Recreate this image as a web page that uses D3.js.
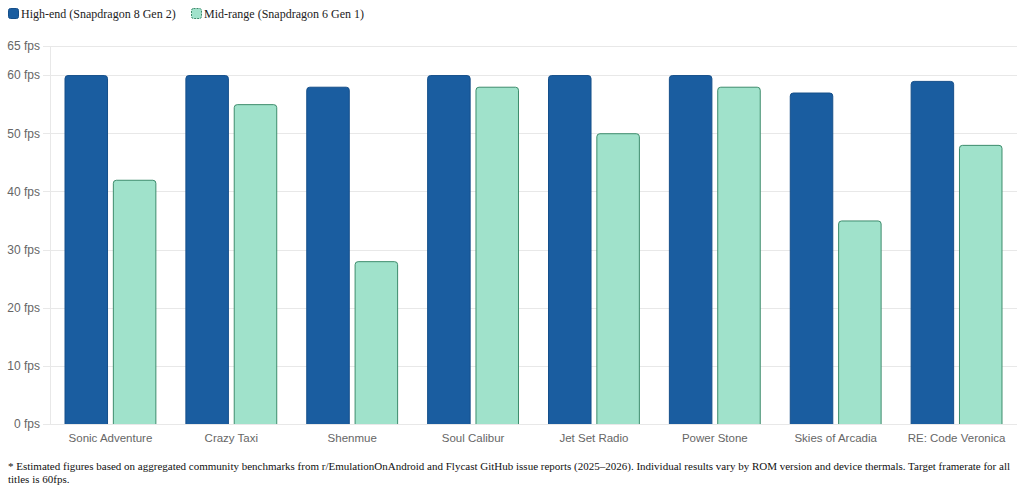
<!DOCTYPE html>
<html>
<head>
<meta charset="utf-8">
<script src="https://cdn.jsdelivr.net/npm/d3@7"></script>
<style>
  body { margin: 0; background: #fff; }
  svg { display: block; }
</style>
</head>
<body>
<svg id="chart" width="1024" height="495"></svg>
<script>
var games = ['Sonic Adventure', 'Crazy Taxi', 'Shenmue', 'Soul Calibur', 'Jet Set Radio', 'Power Stone', 'Skies of Arcadia', 'RE: Code Veronica']
var highEnd = [60, 60, 58, 60, 60, 60, 57, 59]
var midRange = [42, 55, 28, 58, 50, 58, 35, 48]
var yTicks = [0, 10, 20, 30, 40, 50, 60, 65]
var seriesNames = ['High-end (Snapdragon 8 Gen 2)', 'Mid-range (Snapdragon 6 Gen 1)']
var note = ['* Estimated figures based on aggregated community benchmarks from r/EmulationOnAndroid and Flycast GitHub issue reports (2025\u20132026). Individual results vary by ROM version and device thermals. Target framerate for all',
  'titles is 60fps.']

var fills = ['#1a5da0', '#a0e2cb']
var strokes = ['#154f8a', '#3d8c6c']

var svg = d3.select('#chart')
var m = {left: 50, right: 1017, top: 46, bottom: 424}

var x = d3.scaleBand().domain(games).range([m.left, m.right])
var x1 = d3.scaleBand().domain([0, 1]).range([0, x.bandwidth() * 0.8]).paddingInner(0.1).paddingOuter(0.05)
var y = d3.scaleLinear().domain([0, 65]).range([m.bottom, m.top])

// grid
svg.append('g').selectAll('line').data(yTicks).join('line')
  .attr('x1', m.left - 7).attr('x2', m.right)
  .attr('y1', d => Math.round(y(d)) + 0.5).attr('y2', d => Math.round(y(d)) + 0.5)
  .attr('stroke', '#e8e8e8')
svg.append('line').attr('x1', m.left + 0.5).attr('x2', m.left + 0.5)
  .attr('y1', m.top).attr('y2', m.bottom).attr('stroke', '#e8e8e8')

var yAxis = d3.axisLeft(y).tickValues(yTicks).tickFormat(d => d + ' fps').tickSize(0).tickPadding(10)
svg.append('g').attr('transform', 'translate(' + m.left + ',0)').call(yAxis)
  .call(g => g.select('.domain').remove())
  .selectAll('text').attr('fill', '#666').style('font', '12px "Liberation Sans", Arial, sans-serif')

var xAxis = d3.axisBottom(x).tickSize(0).tickPadding(10)
svg.append('g').attr('transform', 'translate(0,' + m.bottom + ')').call(xAxis)
  .call(g => g.select('.domain').remove())
  .selectAll('text').attr('fill', '#666').style('font', '11.5px "Liberation Sans", Arial, sans-serif')

function barPath(x0, w, yTop, yBot, r) {
  return 'M' + x0 + ',' + yBot + 'V' + (yTop + r) + 'Q' + x0 + ',' + yTop + ' ' + (x0 + r) + ',' + yTop +
    'H' + (x0 + w - r) + 'Q' + (x0 + w) + ',' + yTop + ' ' + (x0 + w) + ',' + (yTop + r) + 'V' + yBot
}

var series = [highEnd, midRange]
series.forEach(function(vals, si) {
  svg.append('g').selectAll('path').data(vals).join('path')
    .attr('d', (d, i) => {
      var bx = x(games[i]) + x.bandwidth() * 0.1 + x1(si)
      return barPath(bx + 0.5, x1.bandwidth() - 1, y(d) + 0.5, m.bottom, 3)
    })
    .attr('fill', fills[si])
    .attr('stroke', strokes[si])
    .attr('stroke-width', 1)
})

// legend
var leg = svg.append('g').style('font', '12px "Liberation Serif", "Times New Roman", serif')
var legX = [8, 191]
seriesNames.forEach(function(name, i) {
  leg.append('rect').attr('x', legX[i] + 0.5).attr('y', 8.5).attr('width', 10).attr('height', 10).attr('rx', 2)
    .attr('fill', fills[i]).attr('stroke', strokes[i])
    .attr('stroke-dasharray', i == 1 ? '2,1' : null)
  leg.append('text').attr('x', legX[i] + 13).attr('y', 18).attr('fill', '#222').text(name)
})

svg.append('g').selectAll('text').data(note).join('text')
  .attr('x', 8).attr('y', (d, i) => 470 + i * 12.5)
  .attr('fill', '#111')
  .style('font', '11px "Liberation Serif", "Times New Roman", serif')
  .text(d => d)
</script>
</body>
</html>
